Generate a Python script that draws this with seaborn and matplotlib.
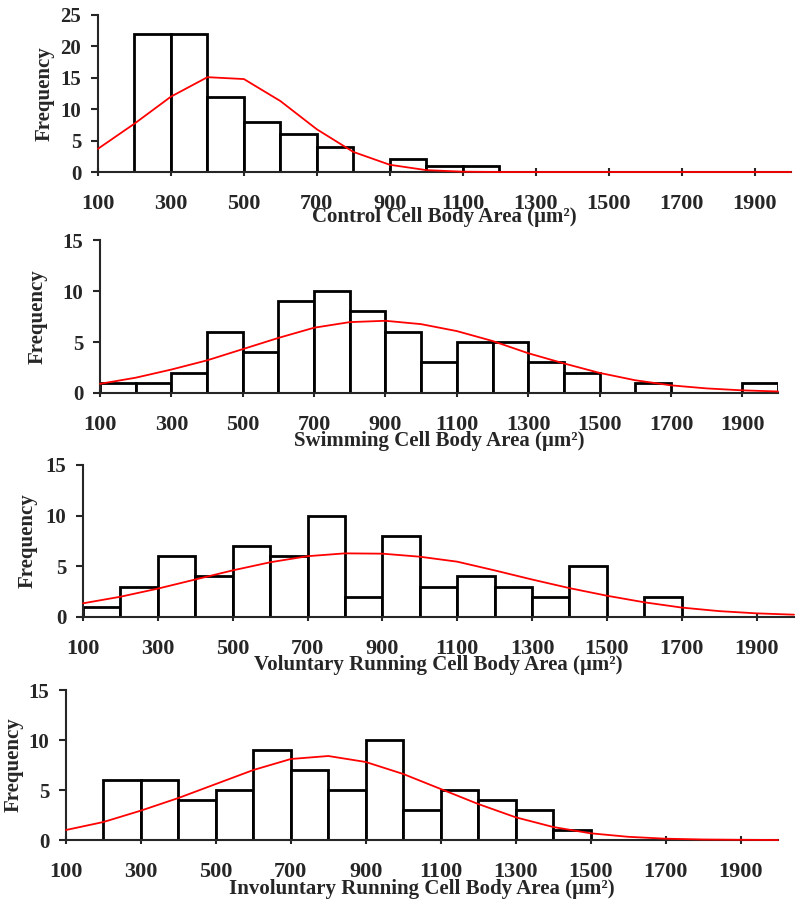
import numpy as np
import pandas as pd
import seaborn as sns
import matplotlib.pyplot as plt

# bin edges 100..2000 step 100, curve sampled at each edge
bin_edges = list(range(100, 2100, 100))
bin_mids = [e + 50 for e in bin_edges[:-1]]
curve_x = bin_edges

control_counts = [0, 22, 22, 12, 8, 6, 4, 0, 2, 1, 1, 0, 0, 0, 0, 0, 0, 0, 0]
control_curve = [3.7, 7.7, 12.0, 15.1, 14.8, 11.3, 6.8, 3.2, 1.15, 0.3, 0.05,
                 0, 0, 0, 0, 0, 0, 0, 0, 0]

swim_counts = [1, 1, 2, 6, 4, 9, 10, 8, 6, 3, 5, 5, 3, 2, 0, 1, 0, 0, 1]
swim_curve = [0.9, 1.5, 2.3, 3.2, 4.3, 5.4, 6.4, 6.95, 7.08, 6.75, 6.07, 5.1,
              3.9, 2.9, 1.97, 1.25, 0.75, 0.45, 0.26, 0.15]

vol_counts = [1, 3, 6, 4, 7, 6, 10, 2, 8, 3, 4, 3, 2, 5, 0, 2, 0, 0, 0]
vol_curve = [1.35, 2.0, 2.8, 3.7, 4.6, 5.4, 6.0, 6.28, 6.25, 5.95, 5.46, 4.6,
             3.7, 2.85, 2.1, 1.45, 0.93, 0.58, 0.36, 0.23]

invol_counts = [0, 6, 6, 4, 5, 9, 7, 5, 10, 3, 5, 4, 3, 1, 0, 0, 0, 0, 0]
invol_curve = [1.0, 1.8, 2.94, 4.2, 5.6, 7.0, 8.1, 8.4, 7.8, 6.6, 5.1, 3.6,
               2.27, 1.3, 0.67, 0.32, 0.13, 0.05, 0.02, 0.0]

xlabels = ["Control Cell Body Area (\u00b5m\u00b2)",
           "Swimming Cell Body Area (\u00b5m\u00b2)",
           "Voluntary Running Cell Body Area (\u00b5m\u00b2)",
           "Involuntary Running Cell Body Area (\u00b5m\u00b2)"]
ymaxes = [25, 15, 15, 15]

sns.set_style("ticks")
plt.rcParams['font.family'] = ['Liberation Serif', 'DejaVu Serif']
plt.rcParams['font.weight'] = 'bold'

W, H = 800, 907
fig = plt.figure(figsize=(8, 9.07), dpi=100)

# pixel boxes: left, right, top(ymax), bottom(0)
boxes = [(98, 791, 15, 172), (100, 778, 240, 393),
         (83, 794, 465, 617), (66, 778, 690, 840)]
ylab_x = [45, 38, 28, 14]
xlab_y = [217, 441, 665, 889]

panels = [(control_counts, control_curve), (swim_counts, swim_curve),
          (vol_counts, vol_curve), (invol_counts, invol_curve)]

for i, (counts, curve) in enumerate(panels):
    l, r, t, b = boxes[i]
    ax = fig.add_axes([l / W, 1 - b / H, (r - l) / W, (b - t) / H])
    df = pd.DataFrame({"x": bin_mids, "n": counts})
    sns.histplot(data=df, x="x", weights="n", bins=bin_edges, ax=ax,
                 color="white", edgecolor="black", linewidth=2.0, alpha=1)
    sns.lineplot(x=curve_x, y=curve, ax=ax, color="red", linewidth=1.3,
                 zorder=5, clip_on=False)
    ax.set_xlim(100, 2000)
    ax.set_ylim(0, ymaxes[i])
    ax.set_xticks(list(range(100, 2000, 200)))
    ax.set_yticks(list(range(0, ymaxes[i] + 1, 5)))
    ax.tick_params(axis="x", direction="inout", length=6, width=1.5,
                   pad=13, labelsize=16)
    ax.tick_params(axis="y", length=5, width=1.5, pad=7, labelsize=15)
    for s in ["top", "right"]:
        ax.spines[s].set_visible(False)
    for s in ["left", "bottom"]:
        ax.spines[s].set_linewidth(1.5)
    ax.set_ylabel("Frequency", fontsize=15, fontweight="bold", va="center")
    ax.yaxis.set_label_coords((ylab_x[i] - l) / (r - l), 0.5)
    ax.set_xlabel(xlabels[i], fontsize=15, fontweight="bold", va="center")
    ax.xaxis.set_label_coords(0.5, (b - xlab_y[i]) / (b - t))

fig.savefig("out.png", dpi=100)
